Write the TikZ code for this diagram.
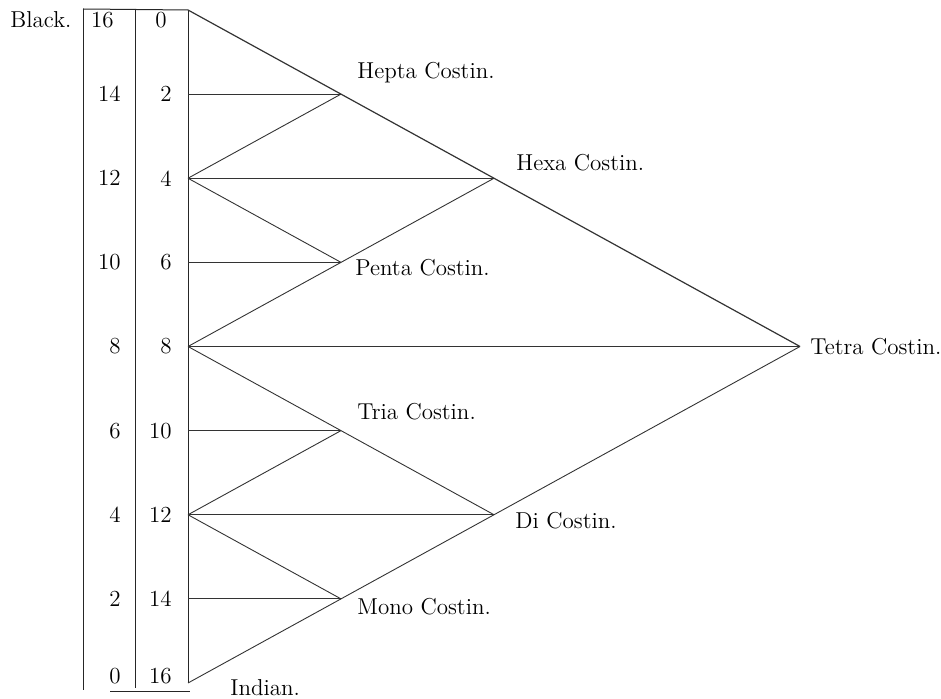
\documentclass[tikz,border=0pt]{standalone}
\usetikzlibrary{calc}
\begin{document}
\begin{tikzpicture}[
    x=0.5pt, y=-0.5pt,
    line/.style={black!80, line width=0.45pt},
    frame/.style={black!85, line width=0.5pt},
    lbl/.style={anchor=west, inner sep=0pt, font=\fontsize{11.5}{13}\selectfont},
    num/.style={anchor=east, inner sep=0pt, font=\fontsize{11.5}{13}\selectfont}
]
    \useasboundingbox (0,0) rectangle (941,699);

    % Points on the axis
    \foreach \k in {0,...,8} {
        \coordinate (a\k) at (188, {10+84.125*\k});
    }

    % Costin points
    \coordinate (tetra) at (800, 346.5);
    \coordinate (hepta) at ($(a0)!0.25!(tetra)$);
    \coordinate (hexa) at ($(a0)!0.5!(tetra)$);
    \coordinate (penta) at ($(a4)!0.5!(hexa)$);
    \coordinate (mono) at ($(a8)!0.25!(tetra)$);
    \coordinate (di) at ($(a8)!0.5!(tetra)$);
    \coordinate (tria) at ($(a4)!0.5!(di)$);

    % Table frame
    \coordinate (tl) at (83, 9);
    \coordinate (bl) at (83, 690);
    \coordinate (tm) at (135, 9);
    \coordinate (bm) at (135, 688);
    \coordinate (bs) at (110, 691);
    \coordinate (be) at (190, 691);
    \draw[frame] (tl) -- (bl);
    \draw[frame] (tm) -- (bm);
    \draw[frame] (tl) -- (a0);
    \draw[frame] (bs) -- (be);

    % Triangle
    \draw[frame] (a0) -- (a8);
    \draw[line, line width=0.6pt] (a0) -- (tetra);
    \draw[line] (a8) -- (tetra);

    % Horizontal lines
    \foreach \i/\p in {1/hepta, 2/hexa, 3/penta, 4/tetra, 5/tria, 6/di, 7/mono} {
        \draw[line] (a\i) -- (\p);
    }

    % Inner diagonals
    \draw[line] (a2) -- (hepta);
    \draw[line] (a2) -- (penta);
    \draw[line] (a4) -- (hexa);
    \draw[line] (a4) -- (di);
    \draw[line] (a6) -- (tria);
    \draw[line] (a6) -- (mono);

    % Column numbers
    \node[num] (b0) at (114, 20) {16};
    \node[num] (i0) at (167, 20) {0};
    \foreach \k in {1,...,7} {
        \pgfmathtruncatemacro{\bv}{16-2*\k}
        \pgfmathtruncatemacro{\iv}{2*\k}
        \node[num] (b\k) at (121, {10+84.125*\k}) {\bv};
        \node[num] (i\k) at (172, {10+84.125*\k}) {\iv};
    }
    \node[num] (b8) at (121, 676) {0};
    \node[num] (i8) at (172, 676) {16};

    % Labels
    \node[lbl] (black) at (10, 20) {Black.};
    \node[lbl] (indian) at (230, 688) {Indian.};
    \node[lbl] (heptal) at (357, 73) {Hepta Costin.};
    \node[lbl] (hexal) at (516, 163) {Hexa Costin.};
    \node[lbl] (pental) at (355, 268) {Penta Costin.};
    \node[lbl] (tetral) at (810, 347) {Tetra Costin.};
    \node[lbl] (trial) at (357, 412) {Tria Costin.};
    \node[lbl] (dil) at (515, 521) {Di Costin.};
    \node[lbl] (monol) at (357, 607) {Mono Costin.};
\end{tikzpicture}
\end{document}
